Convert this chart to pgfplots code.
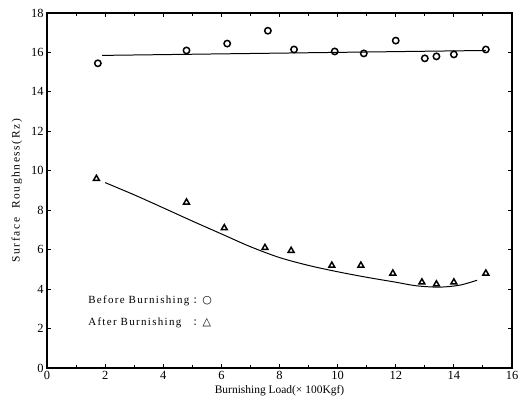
\documentclass[border=0pt]{standalone}
\usepackage{pgfplots}
\pgfplotsset{compat=1.18}
\usepackage{fontspec}
\setmainfont{Liberation Serif}
\newfontfamily\symfont{DejaVu Sans}
\newfontfamily\spaced[LetterSpace=12]{Liberation Serif}
\newfontfamily\yspaced[LetterSpace=14]{Liberation Serif}
\begin{document}
\begin{tikzpicture}
\begin{axis}[
    scale only axis,
    width=465bp, height=355bp,
    xmin=0, xmax=16, ymin=0, ymax=18,
    xtick={0,2,...,16}, ytick={0,2,...,18},
    minor x tick num=1,
    tick align=inside,
    major tick length=4pt, minor tick length=3pt,
    axis line style={line width=1.5pt},
    every tick/.style={line width=0.9pt},
    tick label style={font=\fontsize{12.5}{13}\selectfont},
    /pgf/number format/assume math mode=true,
    xlabel={Burnishing Load(\texttimes\ 100Kgf)},
    ylabel={\yspaced Surface\ \ Roughness(R\,z)},
    label style={font=\fontsize{11.5}{13}\selectfont},
    xlabel style={yshift=1pt},
    ylabel style={yshift=2pt},
    clip=false,
]
% before burnishing
\addplot[only marks, mark=o, mark size=3.2pt, line width=1.5pt] coordinates {
    (1.75,15.45) (4.8,16.1) (6.2,16.45) (7.6,17.1) (8.5,16.15) (9.9,16.05)
    (10.9,15.95) (12.0,16.6) (13.0,15.7) (13.4,15.8) (14.0,15.9) (15.1,16.15)
};
\addplot[line width=1pt] coordinates {(1.9,15.85) (15.1,16.1)};
% after burnishing
\addplot[only marks, mark=triangle, mark size=3.4pt, line width=1.5pt] coordinates {
    (1.7,9.6) (4.8,8.4) (6.1,7.1) (7.5,6.1) (8.4,5.95) (9.8,5.2)
    (10.8,5.2) (11.9,4.8) (12.9,4.35) (13.4,4.25) (14.0,4.35) (15.1,4.8)
};
\addplot[line width=1pt, smooth, tension=0.5] coordinates {
    (2,9.4) (3,8.78) (4,8.12) (5,7.45) (6,6.8) (7,6.15) (8,5.6) (9,5.2)
    (10,4.88) (11,4.6) (12,4.35) (12.7,4.17) (13.5,4.1) (14.2,4.2) (14.8,4.45)
};
\node[anchor=west, font=\fontsize{11}{12}\selectfont] at (axis cs:1.3,3.4) {\spaced Before Burnishing {\symfont :} {\symfont ○}};
\node[anchor=west, font=\fontsize{11}{12}\selectfont] at (axis cs:1.3,2.3) {\spaced After Burnishing \ \ {\symfont :} {\symfont △}};
\path (rel axis cs:0,0) ++(-47bp,-35bp) coordinate (bl);
\path (rel axis cs:1,1) ++(11bp,13bp) coordinate (tr);
\end{axis}
\useasboundingbox (bl) rectangle (tr);
\end{tikzpicture}
\end{document}
